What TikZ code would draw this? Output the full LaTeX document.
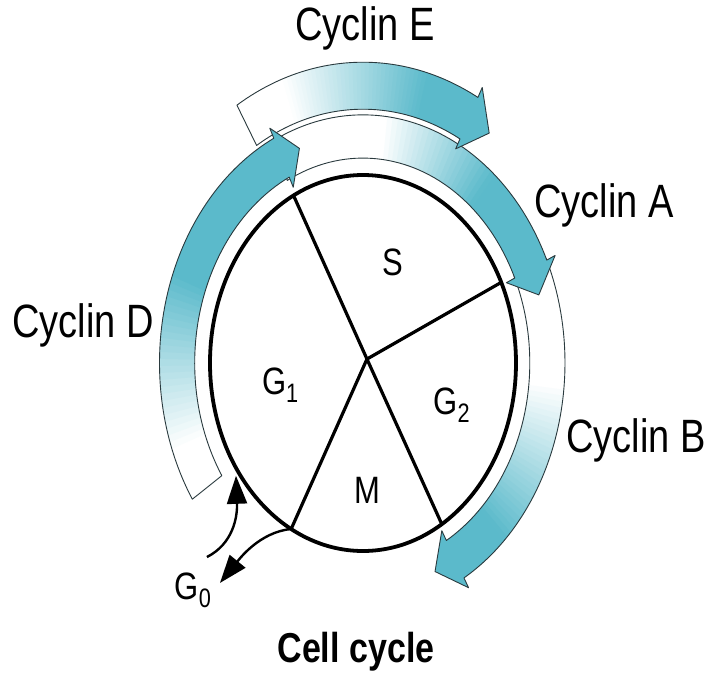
\documentclass[tikz,border=0pt]{standalone}
\usepackage{fontspec}
\setmainfont{Liberation Sans}
\definecolor{cyclin}{HTML}{5BBACB}
\definecolor{outline}{HTML}{2A3A3E}
\usetikzlibrary{arrows.meta}
\tikzstyle{phase} = [font=\fontsize{31}{31}\selectfont, yscale=1.23]
\tikzstyle{cyclinname} = [font=\fontsize{38}{38}\selectfont, yscale=1.23]
\tikzstyle{bandline} = [draw=outline, line width=0.9pt, line join=round]
\tikzstyle{spoke} = [line width=3.2pt]
\tikzstyle{gzero} = [line width=2.4pt, arrows={-Triangle[length=28pt,width=20pt]}]

% #1 tail, #2 head base, #3 tip, #4 inner, #5 outer, #6-#7 shading from/to
\newcommand{\cyclinband}[7]{
  \pgfmathsetmacro{\bstep}{(#2-(#1))/60}
  \foreach \i in {0,...,59}{
    \pgfmathsetmacro{\angone}{#1+\i*\bstep}
    \pgfmathsetmacro{\angtwo}{#1+(\i+1.6)*\bstep}
    \pgfmathsetmacro{\mixp}{100*min(1,max(0,(\i/60-#6)/(#7-#6)))}
    \fill[cyclin!\mixp!white] (\angone:#4) arc[start angle=\angone, end angle=\angtwo, radius=#4]
      -- (\angtwo:#5) arc[start angle=\angtwo, end angle=\angone, radius=#5] -- cycle;
  }
  \fill[cyclin] (#2:{#4-0.06}) -- (#3:{(#4+#5)/2}) -- (#2:{#5+0.06}) -- cycle;
  \draw[bandline] (#1:#4) arc[start angle=#1, end angle=#2, radius=#4] -- (#2:{#4-0.06})
    -- (#3:{(#4+#5)/2}) -- (#2:{#5+0.06}) -- (#2:#5) arc[start angle=#2, end angle=#1, radius=#5] -- cycle;
}

\begin{document}
\begin{tikzpicture}[x=153pt, y=188pt]
\useasboundingbox (-2.3725,-1.6649) rectangle (2.2418,1.9309);

% cyclin arrows
\cyclinband{25}{-60}{-67}{1.09}{1.32}{0.35}{0.82}
\cyclinband{117}{24.5}{17.5}{1.09}{1.32}{0.35}{0.72}
\cyclinband{121}{62}{56}{1.35}{1.60}{0.19}{0.78}
\cyclinband{213}{116}{110}{1.10}{1.33}{0.12}{0.55}

% the cycle
\draw[line width=3.8pt] (0,0) circle[radius=1];
\coordinate (hub) at (0.026,0.021);
\coordinate (sTop) at (117:1);
\coordinate (sRight) at (25.4:1);
\coordinate (sLowR) at (-59:1);
\coordinate (sLowL) at (-118:1);
\draw[spoke] (hub) -- (sTop);
\draw[spoke] (hub) -- (sRight);
\draw[spoke] (hub) -- (sLowR);
\draw[spoke] (hub) -- (sLowL);

\node (S) [phase] at (0.196,0.537) {S};
\node (G1) [phase] at (-0.54,-0.12) {G\textsubscript{1}};
\node (G2) [phase] at (0.58,-0.223) {G\textsubscript{2}};
\node (M) [phase] at (0.026,-0.676) {M};
\node (G0) [phase] at (-1.111,-1.207) {G\textsubscript{0}};

% in and out of G0
\coordinate (backstart) at (-1.02,-1.032);
\coordinate (g1entry) at (-0.83,-0.60);
\coordinate (g0tip) at (-0.935,-1.17);
\draw[gzero] (backstart) .. controls +(0.17,0.07) and +(0.01,-0.22) .. (g1entry);
\draw[gzero] (sLowL) .. controls +(-0.21,-0.016) and +(0.12,0.12) .. (g0tip);

\node (cycE) [cyclinname] at (0.013,1.782) {Cyclin E};
\node (cycA) [cyclinname] at (1.575,0.840) {Cyclin A};
\node (cycD) [cyclinname] at (-1.830,0.202) {Cyclin D};
\node (cycB) [cyclinname] at (1.784,-0.410) {Cyclin B};

\node (title) [phase, font=\fontsize{34}{34}\selectfont\bfseries] at (-0.046,-1.537) {Cell cycle};
\end{tikzpicture}
\end{document}
